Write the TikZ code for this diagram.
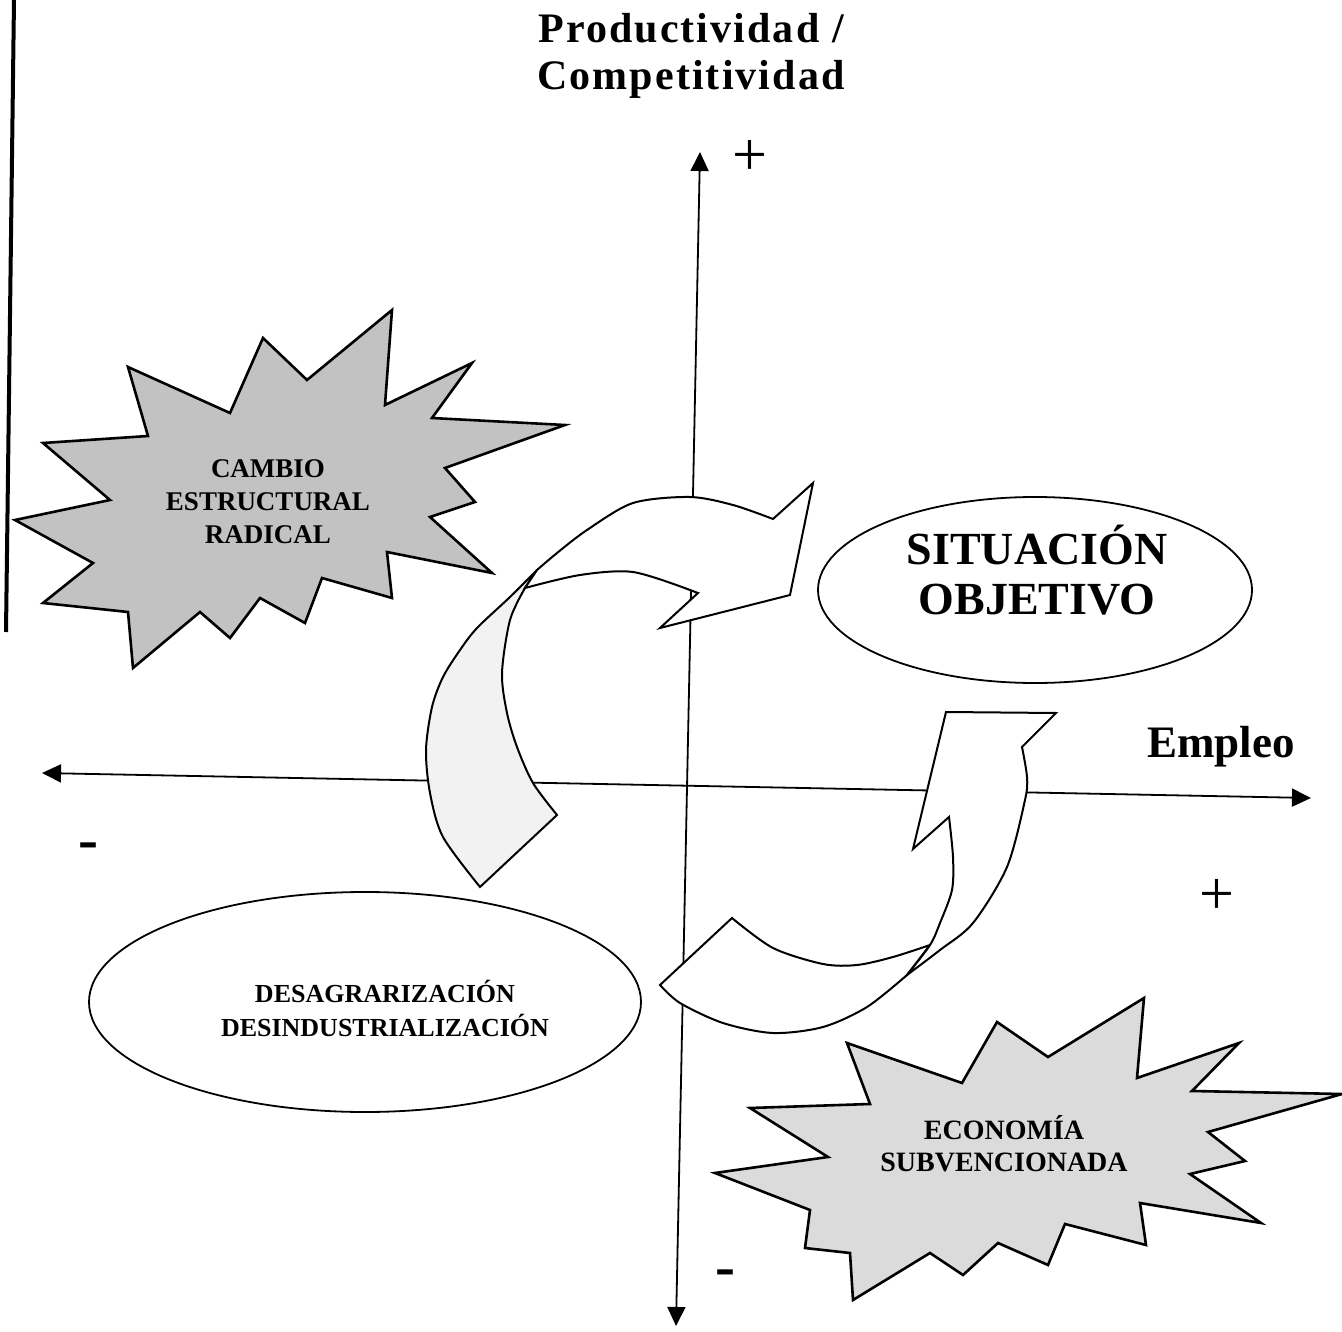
\documentclass[tikz,border=0pt]{standalone}
\usepackage{fontspec}
\setmainfont{Liberation Serif}
\newfontfamily\titlefont[LetterSpace=5]{Liberation Serif}
\usetikzlibrary{arrows.meta,positioning,shapes.geometric}

\begin{document}
\begin{tikzpicture}[x=1pt,y=-1pt,
  axis/.style={line width=1.8pt,{Triangle[length=19pt,width=18pt]}-{Triangle[length=19pt,width=18pt]}},
  burst/.style={draw=black,line width=2.6pt,line join=miter},
  band/.style={draw=black,line width=2pt,line join=miter,fill=white},
  oval/.style={ellipse,draw=black,line width=1.8pt,fill=white,inner sep=0pt},
  lbl/.style={font=\bfseries,align=center,inner sep=0pt},
  sign/.style={inner sep=0pt,anchor=base},
]
%
\useasboundingbox (0,0) rectangle (1342,1332);
%
\definecolor{cfa}{rgb}{0.95,0.95,0.95}
\definecolor{cfb}{rgb}{0.76,0.76,0.76}
\definecolor{cfc}{rgb}{0.86,0.86,0.86}
%
% scan edge
\draw[line width=4pt] (14,0) -- (6,632);
%
% axes
\coordinate (xl) at (42,773);
\coordinate (xr) at (1311,798);
\coordinate (yt) at (700,152);
\coordinate (yb) at (676,1326);
\draw[axis] (xl) -- (xr);
\draw[axis] (yb) -- (yt);
%
\node[lbl,font=\titlefont\bfseries\fontsize{42}{47}\selectfont] (prod) at (691,56) {Productividad /\\Competitividad};
\node[lbl,font=\bfseries\fontsize{45}{50}\selectfont,anchor=base] (empleo) at (1221,757) {Empleo};
\node[sign,font=\fontsize{62}{62}\selectfont] (pt) at (750,176) {+};
\node[sign,font=\fontsize{62}{62}\selectfont] (pr) at (1217,914) {+};
\node[sign,font=\bfseries\fontsize{60}{60}\selectfont] (ml) at (88,859) {-};
\node[sign,font=\bfseries\fontsize{60}{60}\selectfont] (mb) at (725,1286) {-};
%
% cambio estructural radical
\draw[burst,fill=cfb] (15,520) -- (110,500) -- (43,443) -- (148,436) -- (128,367) -- (230,413)
  -- (263,338) -- (307,380) -- (392,310) -- (385,405) -- (472,363) -- (432,418) -- (565,425)
  -- (445,468) -- (475,502) -- (430,517) -- (492,573) -- (387,552) -- (392,598) -- (322,578)
  -- (305,623) -- (260,598) -- (230,638) -- (200,612) -- (133,668) -- (128,612) -- (43,603)
  -- (93,563) -- cycle;
\node[lbl,font=\bfseries\fontsize{27}{33}\selectfont] (cambio) at (268,502) {CAMBIO\\ESTRUCTURAL\\RADICAL};
%
% economia subvencionada
\draw[burst,fill=cfc] (715,1173) -- (828,1157) -- (750,1108) -- (870,1104) -- (847,1043) -- (962,1083)
  -- (997,1022) -- (1048,1057) -- (1144,998) -- (1137,1078) -- (1239,1043) -- (1192,1091)
  -- (1342,1094) -- (1208,1132) -- (1245,1161) -- (1190,1174) -- (1261,1223) -- (1140,1203)
  -- (1146,1245) -- (1065,1224) -- (1048,1265) -- (998,1243) -- (963,1275) -- (930,1253)
  -- (853,1300) -- (850,1253) -- (805,1248) -- (810,1210) -- cycle;
\node[lbl,font=\bfseries\fontsize{28}{32}\selectfont] (econ) at (1004,1144) {ECONOMÍA\\SUBVENCIONADA};
%
% ovals
\node[oval,minimum width=434pt,minimum height=186pt] (sit) at (1035,590) {};
\node[lbl,font=\bfseries\fontsize{46}{50}\selectfont] (sittxt) at (1037,570) {SITUACIÓN\\OBJETIVO};
\node[oval,minimum width=552pt,minimum height=220pt] (desa) at (365,1002) {};
\node[lbl,font=\bfseries\fontsize{26}{34}\selectfont] (desatxt) at (385,1008) {DESAGRARIZACIÓN\\DESINDUSTRIALIZACIÓN};
%
% upper arrow
\draw[band,fill=cfa] (480,887) -- plot[smooth] coordinates {(480,887) (443,837) (430,793) (426,750) (432,707) (443,677) (460,650) (477,628) (510,597) (537,570)}
  -- (525,588) -- plot[smooth] coordinates {(525,588) (510,620) (502,673) (507,713) (517,747) (533,783) (557,815)} -- cycle;
\draw[band] (525,588) -- (537,570) -- plot[smooth] coordinates {(537,570) (557,553) (587,530) (633,503) (690,497) (733,505) (773,519)}
  -- (813,483) -- (790,595) -- (660,628) -- (698,593) -- (690,590)
  -- plot[smooth] coordinates {(690,590) (633,572) (580,575) (525,588)} -- cycle;
%
% lower arrow
\draw[band] (660,985) -- (732,918) -- plot[smooth] coordinates {(732,918) (773,948) (823,964) (857,965) (893,957) (930,945)}
  -- (907,975) -- plot[smooth] coordinates {(907,975) (867,1007) (823,1027) (773,1033) (723,1023) (680,1003) (660,985)} -- cycle;
\draw[band] (907,975) -- plot[smooth] coordinates {(907,975) (930,945) (940,923) (952,890) (953,857) (949,817)}
  -- (913,849) -- (946,712) -- (1056,713) -- (1022,747)
  -- plot[smooth] coordinates {(1022,747) (1027,777) (1025,800) (1007,867) (973,923) (940,950) (907,975)} -- cycle;
%
\end{tikzpicture}
\end{document}
